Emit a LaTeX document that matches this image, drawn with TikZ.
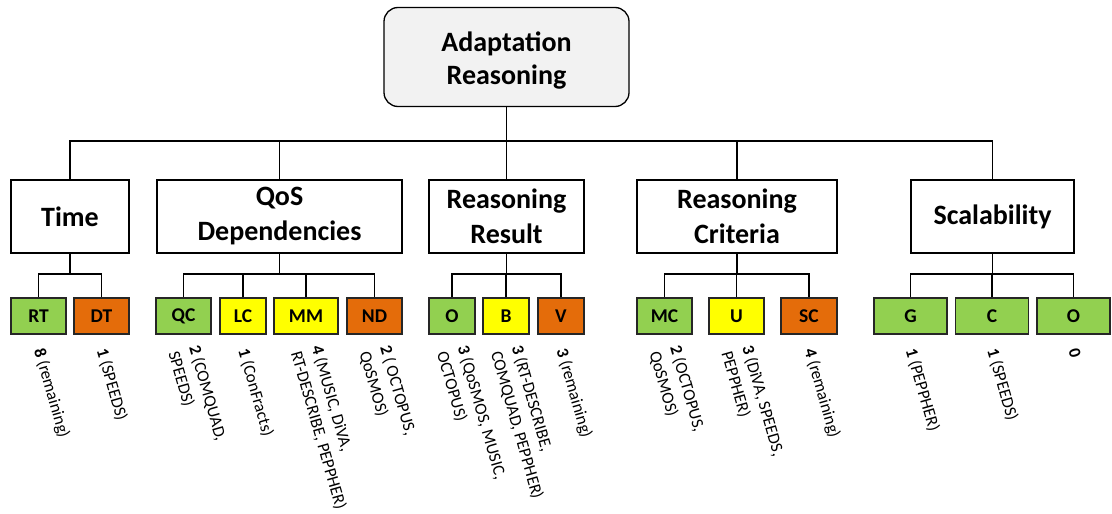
\documentclass[tikz,border=0pt]{standalone}
\usepackage{fontspec}
\setmainfont{Carlito}
\definecolor{rootfill}{HTML}{F2F2F2}
\definecolor{good}{HTML}{92D050}
\definecolor{mid}{HTML}{FFFF00}
\definecolor{bad}{HTML}{E46C0A}
\begin{document}
\begin{tikzpicture}[x=1pt,y=-1pt,
  conn/.style={line width=1.5pt, draw=black},
  rootbox/.style={draw=black, line width=1.3pt, fill=rootfill, rounded corners=14pt,
    minimum width=245pt, minimum height=99pt, inner sep=0pt},
  roottext/.style={inner sep=0pt, align=center,
    font=\fontsize{28}{33}\selectfont\bfseries},
  cat/.style={draw=black, line width=1.3pt, fill=white, minimum height=73pt,
    inner sep=0pt, align=center, font=\fontsize{28}{35}\selectfont\bfseries},
  leaf/.style={draw=black!85, line width=1.3pt, minimum height=36pt,
    inner sep=0pt, font=\fontsize{19.5}{21}\selectfont\bfseries},
  note/.style={rotate=-74, anchor=west, align=left, inner sep=0pt,
    font=\fontsize{17}{21.5}\selectfont},
]
\useasboundingbox (0,0) rectangle (1112,514);

% root
\node[rootbox] (root) at (506.5,57) {};
\node[roottext] (roottxt) at ([yshift=-4pt]root.center) {Adaptation\\Reasoning};

% categories
\node[cat, minimum width=118pt] (time) at (70,216.5) {Time};
\node[cat, minimum width=245pt] (qos)  at (279.5,216.5) {QoS\\Dependencies};
\node[cat, minimum width=155pt] (res)  at (506.5,216.5) {Reasoning\\Result};
\node[cat, minimum width=200pt] (crit) at (737,216.5) {Reasoning\\Criteria};
\node[cat, minimum width=163pt] (scal) at (992.5,216.5) {Scalability};

% leaves
\node[leaf, fill=good, minimum width=55pt] (rt) at (38.5,316) {RT};
\node[leaf, fill=bad,  minimum width=55pt] (dt) at (101.5,316) {DT};
\node[leaf, fill=good, minimum width=55pt] (qc) at (183.5,316) {QC};
\node[leaf, fill=mid,  minimum width=46pt] (lc) at (243,316) {LC};
\node[leaf, fill=mid,  minimum width=64pt] (mm) at (306,316) {MM};
\node[leaf, fill=bad,  minimum width=55pt] (nd) at (374.5,316) {ND};
\node[leaf, fill=good, minimum width=46pt] (ro) at (452,316) {O};
\node[leaf, fill=mid,  minimum width=46pt] (rb) at (506,316) {B};
\node[leaf, fill=bad,  minimum width=46pt] (rv) at (561,316) {V};
\node[leaf, fill=good, minimum width=55pt] (mc) at (664.5,316) {MC};
\node[leaf, fill=mid,  minimum width=55pt] (cu) at (736.5,316) {U};
\node[leaf, fill=bad,  minimum width=56pt] (sc) at (809,316) {SC};
\node[leaf, fill=good, minimum width=73pt] (sg) at (910.5,316) {G};
\node[leaf, fill=good, minimum width=73pt] (sk) at (992,316) {C};
\node[leaf, fill=good, minimum width=73pt] (so) at (1073.5,316) {O};

% connectors: root to categories
\foreach \c in {time,qos,res,crit,scal}
  \draw[conn] (root.south) -- ++(0,34) -| (\c.north);

% connectors: categories to leaves
\foreach \p/\c in {time/rt,time/dt,qos/qc,qos/lc,qos/mm,qos/nd,res/ro,res/rb,res/rv,
                   crit/mc,crit/cu,crit/sc,scal/sg,scal/sk,scal/so}
  \draw[conn] (\p.south) -- ++(0,20.5) -| (\c.north);

% counts under the leaves
\node[note] (nrt) at ([yshift=-14pt]rt.south) {\textbf{8} (remaining)};
\node[note] (ndt) at ([yshift=-14pt]dt.south) {\textbf{1} (SPEEDS)};
\node[note] (nqc) at ([yshift=-14pt]qc.south) {\textbf{2} (COMQUAD,\\SPEEDS)};
\node[note] (nlc) at ([yshift=-14pt]lc.south) {\textbf{1} (ConFracts)};
\node[note] (nmm) at ([yshift=-14pt]mm.south) {\textbf{4} (MUSIC, DiVA,\\RT-DESCRIBE, PEPPHER)};
\node[note] (nnd) at ([yshift=-14pt]nd.south) {\textbf{2} ( OCTOPUS,\\QoSMOS)};
\node[note] (nro) at ([yshift=-14pt]ro.south) {\textbf{3} (QoSMOS, MUSIC,\\OCTOPUS)};
\node[note] (nrb) at ([yshift=-14pt]rb.south) {\textbf{3} (RT-DESCRIBE,\\COMQUAD, PEPPHER)};
\node[note] (nrv) at ([yshift=-14pt]rv.south) {\textbf{3} (remaining)};
\node[note] (nmc) at ([yshift=-14pt]mc.south) {\textbf{2} (OCTOPUS,\\QoSMOS)};
\node[note] (ncu) at ([yshift=-14pt]cu.south) {\textbf{3} (DiVA, SPEEDS,\\PEPPHER)};
\node[note] (nsc) at ([yshift=-14pt]sc.south) {\textbf{4} (remaining)};
\node[note] (nsg) at ([yshift=-14pt]sg.south) {\textbf{1} (PEPPHER)};
\node[note] (nsk) at ([yshift=-14pt]sk.south) {\textbf{1} (SPEEDS)};
\node[note] (nso) at ([yshift=-14pt]so.south) {\textbf{0}};
\end{tikzpicture}
\end{document}
